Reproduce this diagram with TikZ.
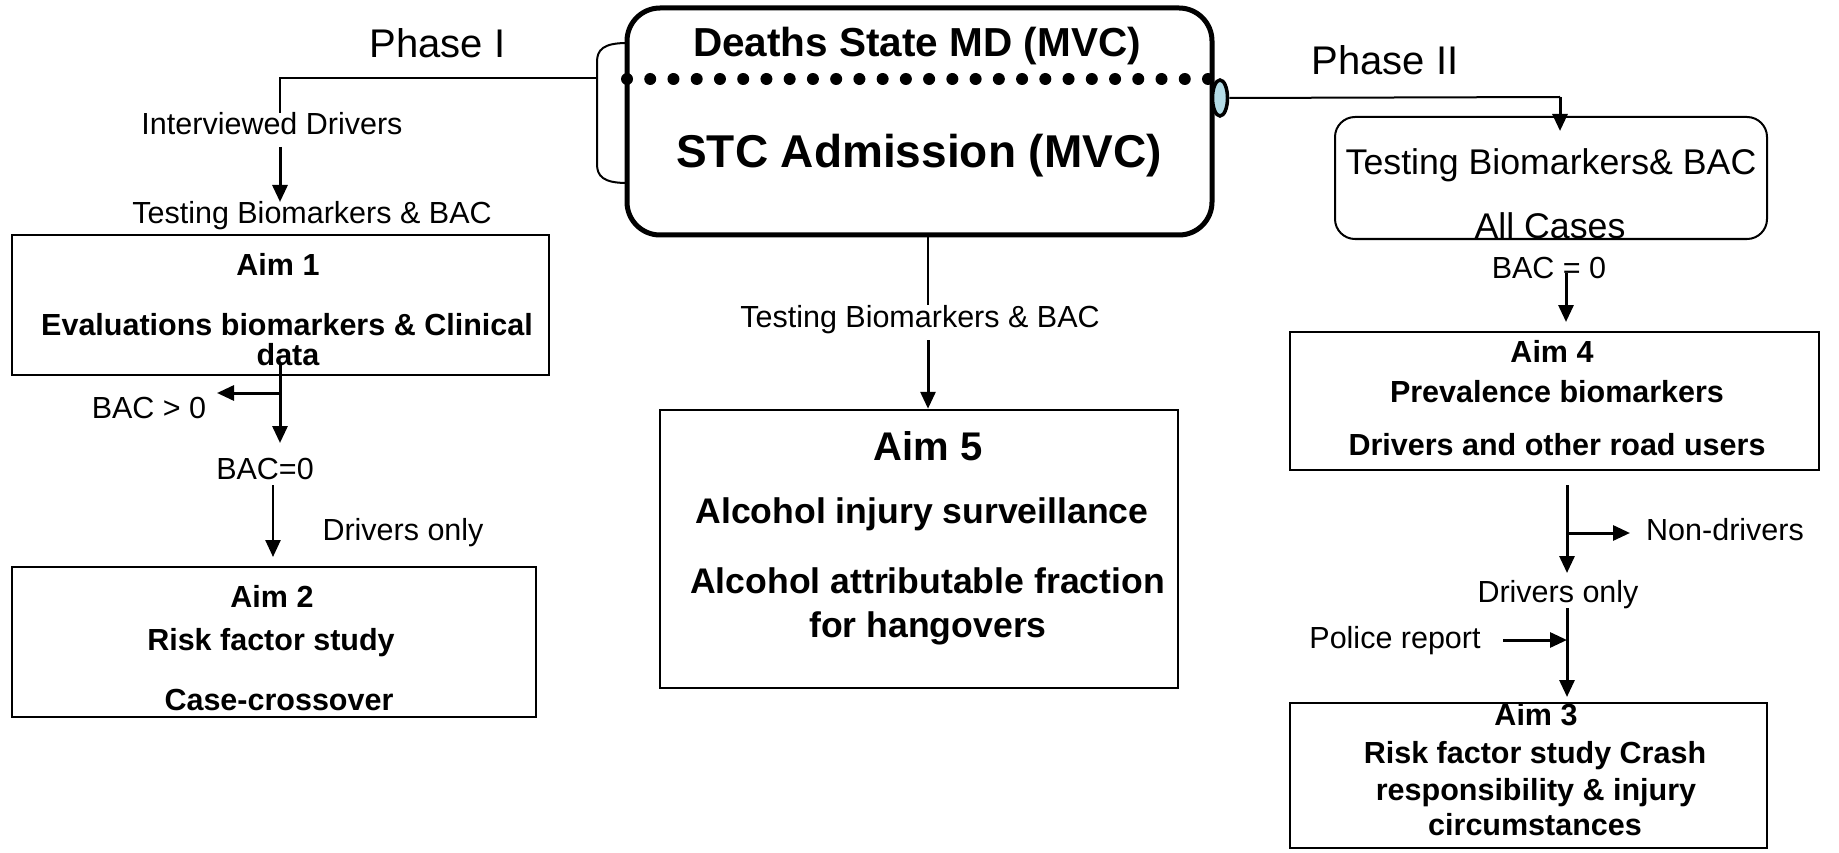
\documentclass[tikz,border=0pt]{standalone}
\usepackage{fontspec}
\setmainfont{Liberation Sans}
\usetikzlibrary{arrows.meta,shapes.geometric}
\definecolor{ellblue}{HTML}{B4DCE6}
\tikzset{
  lbl/.style={font=\fontsize{30.5}{36}\selectfont, anchor=base, inner sep=0pt},
  blbl/.style={font=\bfseries\fontsize{30.5}{36}\selectfont, anchor=base, inner sep=0pt},
  mlbl/.style={font=\fontsize{35.7}{42}\selectfont, anchor=base, inner sep=0pt},
  aimfive/.style={font=\bfseries\fontsize{35.6}{42}\selectfont, anchor=base, inner sep=0pt},
  phase/.style={font=\fontsize{40}{46}\selectfont, anchor=base, inner sep=0pt},
  aimbox/.style={draw, line width=2.5pt, inner sep=0pt, rectangle},
  thinline/.style={line width=2pt},
  arr/.style={line width=3pt, -{Triangle[width=15pt,length=17pt]}},
}
\begin{document}
\begin{tikzpicture}[x=1pt,y=-1pt]
\useasboundingbox (0,0) rectangle (1839,853);

% ---------- main box ----------
\node[draw, line width=5pt, rounded corners=33pt, minimum width=585pt, minimum height=227pt, inner sep=0pt] (main) at (919.5,121.5) {};
\foreach \i in {0,...,25} { \fill ({627+23.24*\i},79) circle (6pt); }
\node[font=\bfseries\fontsize{40.5}{46}\selectfont, anchor=base, inner sep=0pt] (deaths) at (917,57) {Deaths State MD (MVC)};
\node[font=\bfseries\fontsize{46}{52}\selectfont, anchor=base, inner sep=0pt] (stc) at (919,168) {STC Admission (MVC)};
% bracket on the left
\coordinate (brktop) at (627,43);
\coordinate (brkbot) at (627,183);
\coordinate (brk) at (597,78);
\draw[thinline] (brktop) .. controls (603,43) and (597,50) .. (597,62) -- (597,164) .. controls (597,176) and (603,183) .. (brkbot);
% ellipse on the right
\node[ellipse, draw, line width=3.5pt, fill=ellblue, minimum width=15pt, minimum height=36pt, inner sep=0pt] (ell) at (1220,98) {};

% ---------- Phase labels ----------
\node[phase] (ph1) at (437.5,58) {Phase I};
\node[phase] (ph2) at (1385,75) {Phase II};

% ---------- left column ----------
\node[lbl] (intv) at (272,135) {Interviewed Drivers};
\node[lbl] (test1) at (312,223) {Testing Biomarkers \& BAC};
\node[aimbox, minimum width=537pt, minimum height=140pt] (aim1) at (280.5,305) {};
\node[blbl] (aim1a) at (278,275) {Aim 1};
\node[blbl] (aim1b) at (287,335) {Evaluations biomarkers \& Clinical};
\node[blbl] (aim1c) at (288,365) {data};
\node[lbl] (bacgt) at (149,418) {BAC > 0};
\node[lbl] (bac0) at (265,479) {BAC=0};
\node[lbl] (drv1) at (403,540) {Drivers only};
\node[aimbox, minimum width=524pt, minimum height=150pt] (aim2) at (274,642) {};
\node[blbl] (aim2a) at (272,607) {Aim 2};
\node[blbl] (aim2b) at (271,650) {Risk factor study};
\node[blbl] (aim2c) at (279,710) {Case-crossover};

\coordinate (p1) at (280,78);
\coordinate (p2) at (280,113);
\draw[thinline] (brk) -- (p1) -- (p2);
\coordinate (a1s) at (280,147);
\coordinate (a1e) at (280,202);
\draw[arr] (a1s) -- (a1e);
\coordinate (d1s) at (280,363);
\coordinate (d1e) at (280,443);
\coordinate (d1b) at (280,393);
\coordinate (d1l) at (217,393);
\draw[arr] (d1s) -- (d1e);
\draw[arr] (d1b) -- (d1l);
\coordinate (e1s) at (273,485);
\coordinate (e1e) at (273,557);
\draw[line width=2.5pt, -{Triangle[width=15pt,length=17pt]}] (e1s) -- (e1e);

% ---------- center column ----------
\node[lbl] (test5) at (920,327) {Testing Biomarkers \& BAC};
\node[aimbox, minimum width=518pt, minimum height=278pt] (aim5) at (919,549) {};
\node[font=\bfseries\fontsize{40}{46}\selectfont, anchor=base, inner sep=0pt] (aim5a) at (928,460) {Aim 5};
\node[aimfive] (aim5b) at (922,523) {Alcohol injury surveillance};
\node[aimfive] (aim5c) at (927.5,593) {Alcohol attributable fraction};
\node[aimfive] (aim5d) at (928,637) {for hangovers};
\coordinate (c1s) at (928,235);
\coordinate (c1e) at (928,305);
\draw[thinline] (c1s) -- (c1e);
\coordinate (c2s) at (928,340);
\draw[arr] (c2s) -- (aim5.north -| c2s);

% ---------- right column ----------
\node[draw, line width=2pt, rounded corners=20pt, minimum width=432pt, minimum height=122pt, inner sep=0pt] (rbox) at (1551,178) {};
\node[mlbl] (rt1) at (1551,175) {Testing Biomarkers\& BAC};
\node[mlbl] (rt2) at (1550,238) {All Cases};
\node[lbl] (bac0r) at (1549,278) {BAC = 0};
\node[aimbox, minimum width=529pt, minimum height=138pt] (aim4) at (1554.5,401) {};
\node[blbl] (aim4a) at (1552,362) {Aim 4};
\node[blbl] (aim4b) at (1557,402) {Prevalence biomarkers};
\node[blbl] (aim4c) at (1557,455) {Drivers and other road users};
\node[lbl] (nondrv) at (1725,540) {Non-drivers};
\node[lbl] (drv2) at (1558,602) {Drivers only};
\node[lbl] (police) at (1395,648) {Police report};
\node[aimbox, minimum width=477pt, minimum height=145pt] (aim3) at (1528.5,775.5) {};
\node[blbl] (aim3a) at (1536,725) {Aim 3};
\node[blbl] (aim3b) at (1535,763) {Risk factor study Crash};
\node[blbl] (aim3c) at (1536,800) {responsibility \& injury};
\node[blbl] (aim3d) at (1535,835) {circumstances};

\coordinate (r1) at (1560,97);
\coordinate (r1e) at (1560,131);
\draw[thinline] (ell.east) -- (r1);
\draw[arr] (r1) -- (r1e);
\coordinate (r2s) at (1566,273);
\coordinate (r2e) at (1566,322);
\draw[arr] (r2s) -- (r2e);
\coordinate (r3s) at (1567,485);
\coordinate (r3e) at (1567,573);
\coordinate (r3b) at (1567,533);
\coordinate (r3r) at (1630,533);
\draw[arr] (r3s) -- (r3e);
\draw[arr] (r3b) -- (r3r);
\coordinate (r4s) at (1567,608);
\coordinate (r4e) at (1567,697);
\draw[arr] (r4s) -- (r4e);
\coordinate (pol) at (1503,640);
\coordinate (polE) at (1567,640);
\draw[arr] (pol) -- (polE);
\end{tikzpicture}
\end{document}
